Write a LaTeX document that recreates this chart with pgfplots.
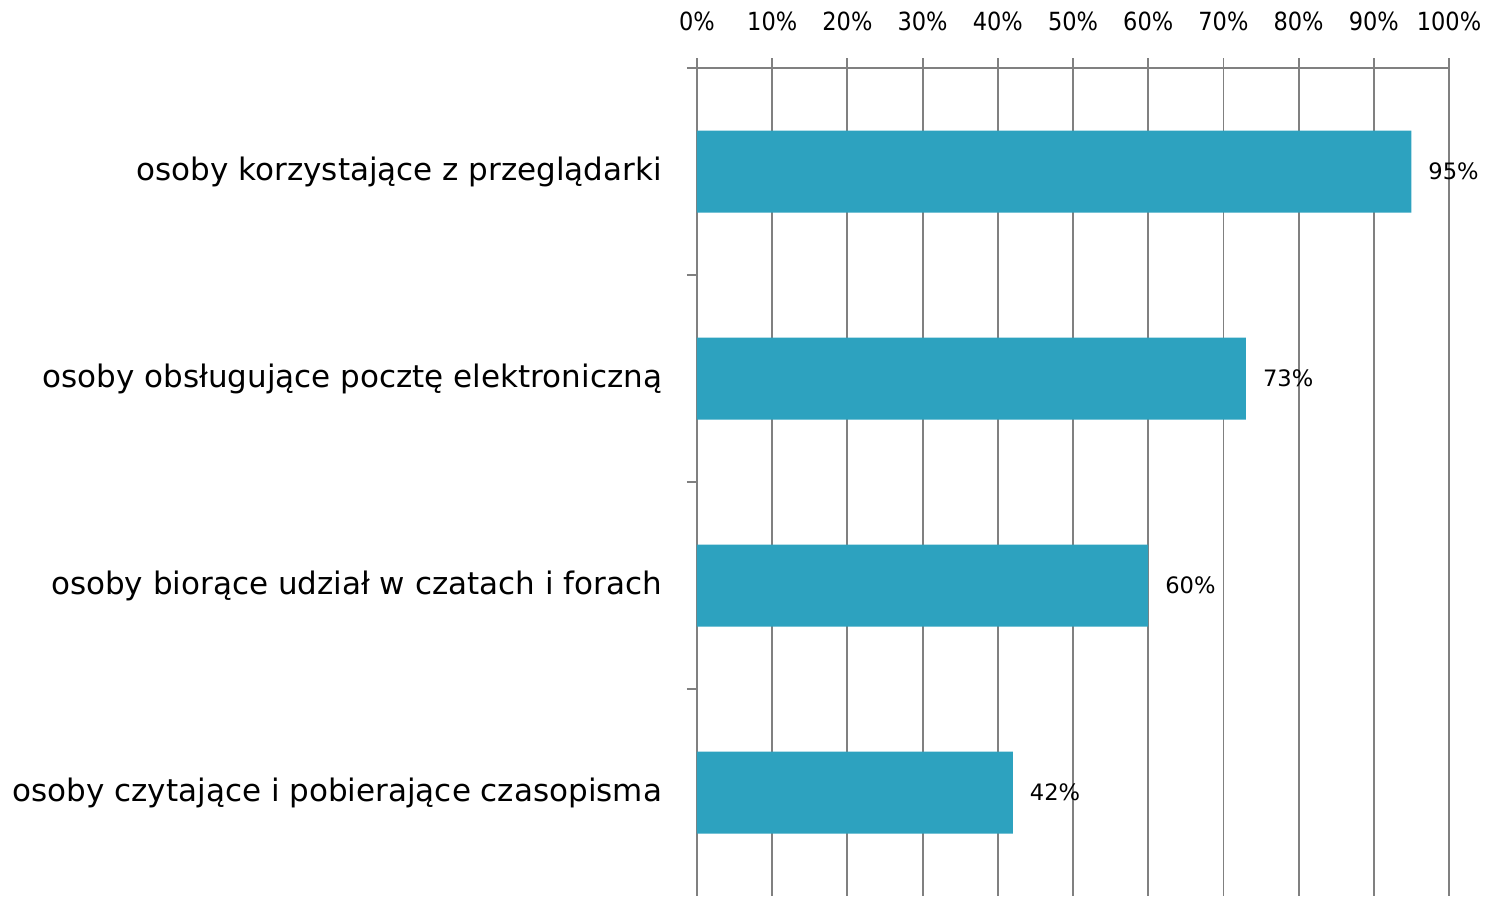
\documentclass[border=0pt]{standalone}
\usepackage{fontspec}
\setmainfont{DejaVu Sans}
\newfontfamily\condfont{DejaVu Sans Condensed}
\usepackage{pgfplots}
\pgfplotsset{compat=1.18}
\definecolor{barcol}{RGB}{45,162,191}
\definecolor{gridcol}{RGB}{128,128,128}
\begin{document}
\begin{tikzpicture}
\begin{axis}[
  at={(348.5pt,0pt)}, anchor=south west,
  scale only axis, width=376pt, height=414pt,
  xmin=0, xmax=100, ymin=-0.5, ymax=3.5, y dir=reverse,
  axis x line*=top, axis y line*=left,
  axis line style={gridcol, line width=0.9pt},
  xtick={0,10,...,100},
  xticklabel={\pgfmathprintnumber{\tick}\%},
  /pgf/number format/assume math mode=true,
  xticklabel style={font=\condfont\fontsize{12.5}{14}\selectfont, yshift=10pt},
  ytick={-0.5,0.5,1.5,2.5},
  yticklabels={},
  extra y ticks={0,1,2,3},
  extra y tick labels={osoby korzystające z przeglądarki, osoby obsługujące pocztę elektroniczną, osoby biorące udział w czatach i forach, osoby czytające i pobierające czasopisma},
  extra y tick style={major tick length=0pt, yticklabel style={font=\fontsize{15.5}{18}\selectfont, xshift=-14pt}, grid=none},
  tick align=outside, major tick length=5pt,
  tick style={gridcol, line width=0.9pt},
  xmajorgrids, grid style={gridcol, line width=0.9pt},
  xbar, bar width=41pt,
  nodes near coords={\pgfmathprintnumber{\pgfplotspointmeta}\%},
  nodes near coords style={font=\fontsize{11.3}{13}\selectfont, anchor=west, xshift=5pt},
  point meta=x,
  clip=false,
]
\addplot[fill=barcol, draw=none] coordinates {(95,0) (73,1) (60,2) (42,3)};
\end{axis}
\pgfresetboundingbox
\path (0,0) rectangle (750pt,448pt);
\end{tikzpicture}
\end{document}
